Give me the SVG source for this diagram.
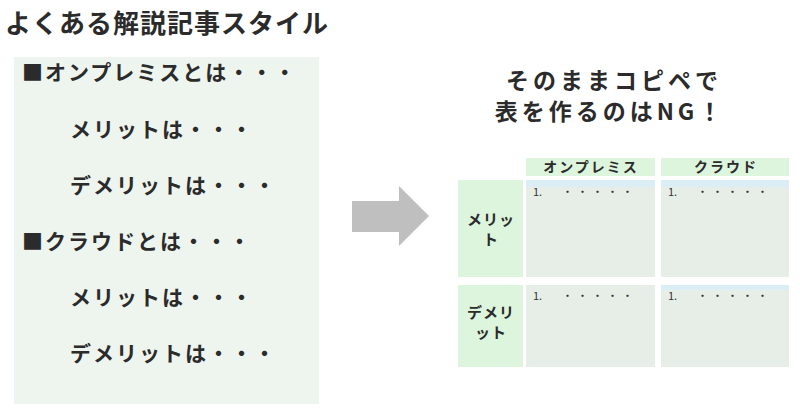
<svg xmlns="http://www.w3.org/2000/svg" width="800" height="413" viewBox="0 0 800 413">
<style>
text{font-family:"Noto Sans CJK JP","Noto Sans",sans-serif;fill:#2b2b2b;font-weight:bold}
.title{font-size:26px;letter-spacing:1px}
.rtitle{font-size:23px;letter-spacing:4px;text-anchor:middle}
.item{font-size:21px;letter-spacing:2px}
.hdr{font-size:14px;letter-spacing:2px;text-anchor:middle}
.row{font-size:15px;letter-spacing:1px;text-anchor:middle}
.num{font-size:11px;font-weight:normal;fill:#333}
.hcell{fill:#DCF5DC}
.body{fill:#E7EDE7}
.strip{fill:#DCEEF5}
</style>
<rect width="800" height="413" fill="#ffffff"/>
<g id="title-left"><text class="title" x="5" y="33">よくある解説記事スタイル</text></g>
<g id="left-panel">
<rect x="14" y="57" width="305" height="347" fill="#EEF5EE"/>
<text class="item" x="22" y="80">■オンプレミスとは・・・</text>
<text class="item" x="70" y="137">メリットは・・・</text>
<text class="item" x="70" y="193">デメリットは・・・</text>
<text class="item" x="22" y="249">■クラウドとは・・・</text>
<text class="item" x="70" y="305">メリットは・・・</text>
<text class="item" x="70" y="361">デメリットは・・・</text>
</g>
<g id="connectors">
<polygon points="352,201 399,201 399,186 429,216 399,246 399,232 352,232" fill="#BFBFBF"/>
</g>
<g id="title-right">
<text class="rtitle" x="614" y="89">そのままコピペで</text>
<text class="rtitle" x="610" y="120">表を作るのはNG！</text>
</g>
<g id="table">
<g id="h-onprem"><rect class="hcell" x="526" y="158" width="129" height="18"/><text class="hdr" x="591" y="172">オンプレミス</text></g>
<g id="h-cloud"><rect class="hcell" x="661" y="158" width="128" height="18"/><text class="hdr" x="726" y="172">クラウド</text></g>
<g id="r-merit"><rect class="hcell" x="458" y="180" width="65" height="97"/><text class="row" x="491" y="225">メリッ</text><text class="row" x="491" y="245">ト</text></g>
<g id="r-demerit"><rect class="hcell" x="458" y="285" width="65" height="82"/><text class="row" x="491" y="318">デメリ</text><text class="row" x="491" y="338">ット</text></g>
<g id="c11"><rect class="body" x="526" y="180" width="129" height="97"/><rect class="strip" x="526" y="180" width="129" height="7"/><text class="num" x="533" y="196">1.</text><text class="num" x="562" y="196" letter-spacing="4">・・・・・</text></g>
<g id="c12"><rect class="body" x="661" y="180" width="128" height="97"/><rect class="strip" x="661" y="180" width="128" height="7"/><text class="num" x="668" y="196">1.</text><text class="num" x="697" y="196" letter-spacing="4">・・・・・</text></g>
<g id="c21"><rect class="body" x="526" y="285" width="129" height="82"/><text class="num" x="533" y="300">1.</text><text class="num" x="562" y="300" letter-spacing="4">・・・・・</text></g>
<g id="c22"><rect class="body" x="661" y="285" width="128" height="82"/><rect class="strip" x="661" y="285" width="128" height="5"/><text class="num" x="668" y="300">1.</text><text class="num" x="697" y="300" letter-spacing="4">・・・・・</text></g>
</g>
</svg>
